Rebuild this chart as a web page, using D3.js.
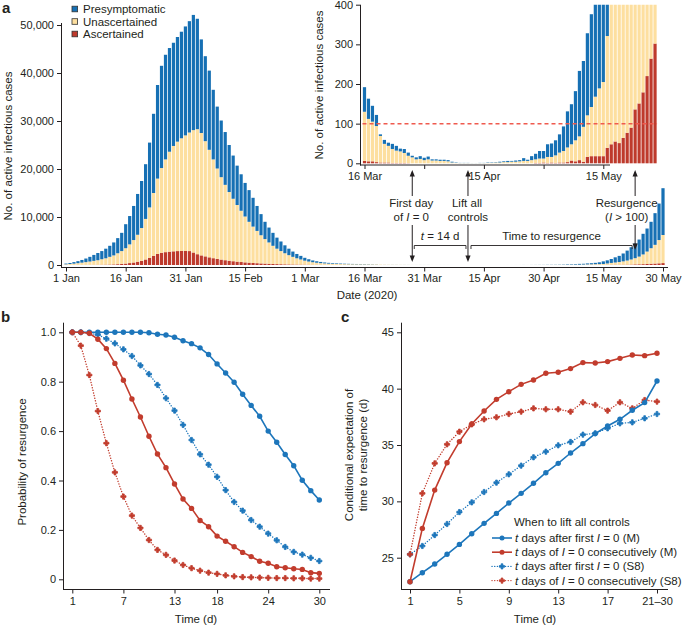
<!DOCTYPE html>
<html><head><meta charset="utf-8">
<script src="https://cdn.jsdelivr.net/npm/d3@7"></script>
<style>
body{margin:0;background:#fff;}
svg text{font-family:"Liberation Sans",Arial,Helvetica,sans-serif;fill:#231f20;}
</style></head><body>
<svg id="chart" width="685" height="626"></svg>
<script>
// ---------- Panel a data (daily, from 1 Jan 2020) ----------
const startDate = new Date(Date.UTC(2020, 0, 1));
const ascertained = [
 5,8,10,15,20,25,30,40,50,60,
 80,100,130,170,230,300,400,520,680,880,
 1150,1500,1900,2300,2550,2680,2780,2850,2900,2920,
 2930,2900,2600,2250,2000,1800,1600,1420,1270,1130,
 1000,890,790,700,620,550,490,430,380,330,
 290,250,220,190,165,145,125,110,95,82,
 70,60,50,42,35,29,24,20,16,13,
 11,9,8,7,7,6,5,5,3,2,
 2,2,1,1,1,1,0.5,0,0,0,
 0,0,0,0,0,0,0,0,0,0,
 0,0,0,0,0,0,0,0,0,0,
 0,0,0,0,0,0,0,0,1,1,
 2,1,2,1,2,2,3,7,5,8,
 4,16,18,18,18,18,39,48,55,51,
 64,77,90,136,151,179,220,264,302,350,400];
const unascertained = [
 135,202,270,365,470,575,690,820,950,1140,
 1320,1600,1870,2280,2670,3200,3900,4680,5620,6820,
 8450,10500,13100,15700,17650,19320,20820,21950,22800,23480,
 24070,24700,25500,26050,25500,24000,22400,20580,18830,17170,
 15700,14310,13010,11800,10680,9550,8510,7570,6720,5870,
 5110,4450,3780,3210,2735,2305,1925,1590,1305,1068,
 830,660,530,428,355,301,256,225,199,182,
 167,156,147,140,131,124,107,100,91,67,
 47,42,35,31,29,25,18.5,15,10,11,
 8,10,7,7,6,6,5,2,1,0.5,
 0.5,0.5,0.3,0.3,0.5,0.5,1,1,2,2,
 3,3,4,4,5,6,6,8,9,11,
 10,15,14,19,25,29,37,41,53,60,
 88,105,124,150,171,187,282,382,465,569,
 696,853,1060,1284,1599,2021,2580,3236,3898,4850,5850];
const presymptomatic = [
 160,210,320,420,560,750,980,1240,1500,1700,
 2000,2300,2700,3150,3800,5000,5900,7100,8500,9800,
 11400,13500,16500,19500,21300,21800,21600,21500,21800,22200,
 22700,23200,24000,23000,19500,17700,16500,14500,12900,11800,
 11000,9800,9000,8200,7600,7000,6600,6000,5200,4400,
 3600,3100,2700,2300,2000,1650,1350,1100,900,750,
 600,480,370,310,250,200,170,145,125,105,
 92,80,70,65,62,62,51,40,28,4,
 10,8,13,12,7,10,8,4,5,7,
 6,7,3,3,3,3,3,2,1,0.5,
 0.5,0.5,0.2,0.2,0.5,0.5,1,1,1,2,
 2,3,2,3,3,7,3,10,14,19,
 19,32,34,38,46,62,91,101,124,165,
 166,207,234,282,371,555,649,820,1080,1280,
 1640,2070,2550,3080,3550,4300,4800,5500,6600,7600,9750];
const seriesKeys = ["ascertained", "unascertained", "presymptomatic"];
const legendLabels = ["Presymptomatic", "Unascertained", "Ascertained"];
const mainYTicks = [0, 10000, 20000, 30000, 40000, 50000];
const insetYTicks = [0, 100, 200, 300, 400];
const insetFirstDay = 75, insetLastDay = 148;   // 16 Mar .. 28 May
const resurgenceThreshold = 100;
const firstZeroDate = new Date(Date.UTC(2020, 2, 28));
const liftDate = new Date(Date.UTC(2020, 3, 11));
const resurgenceDate = new Date(Date.UTC(2020, 4, 23));

// ---------- Panel b data ----------
const bTimes = [1,2,3,4,5,6,7,8,9,10,11,12,13,14,15,16,17,18,19,20,21,22,23,24,25,26,27,28,29,30];
const bTickValues = [1, 7, 13, 18, 24, 30];
const bBlueM = [1,1,1,1,1,1,1,1,1,0.998,0.992,0.989,0.980,0.966,0.954,0.937,0.910,0.872,0.835,0.798,0.749,0.704,0.660,0.600,0.555,0.505,0.460,0.401,0.359,0.321];
const bRedM = [1,1,0.996,0.972,0.934,0.874,0.806,0.730,0.657,0.579,0.507,0.452,0.386,0.325,0.287,0.238,0.213,0.175,0.154,0.132,0.109,0.092,0.073,0.065,0.051,0.047,0.043,0.040,0.027,0.024];
const bBlueS8 = [1,1,0.997,0.990,0.974,0.955,0.931,0.904,0.866,0.831,0.787,0.733,0.683,0.625,0.564,0.506,0.464,0.415,0.361,0.313,0.278,0.240,0.213,0.185,0.158,0.131,0.111,0.100,0.087,0.074];
const bRedS8 = [1,0.946,0.827,0.681,0.551,0.433,0.335,0.258,0.208,0.159,0.119,0.099,0.076,0.058,0.045,0.035,0.027,0.022,0.016,0.012,0.009,0.008,0.007,0.006,0.005,0.005,0.004,0.004,0.003,0.003];

// ---------- Panel c data ----------
const cTimes = ["1","2","3","4","5","6","7","8","9","10","11","12","13","14","15","16","17","18","19","20","21–30"];
const cTickValues = ["1","5","9","13","17","21–30"];
const cBlueM = [22.87,23.67,24.44,25.30,26.18,27.13,28.05,28.93,29.85,30.71,31.60,32.54,33.37,34.29,35.12,36.01,36.69,37.28,38.08,38.76,40.68];
const cRedM = [22.87,27.60,31.00,33.43,35.30,36.86,38.02,39.05,39.73,40.38,40.77,41.36,41.45,41.78,42.31,42.28,42.40,42.69,42.99,42.93,43.14];
const cBlueS8 = [25.30,26.04,27.01,27.99,29.05,29.91,30.83,31.66,32.40,33.17,33.91,34.41,34.97,35.27,35.92,36.04,36.48,36.92,37.01,37.37,37.75];
const cRedS8 = [25.30,30.71,33.37,35.06,36.18,36.83,37.28,37.46,37.75,37.96,38.25,38.17,38.17,37.96,38.79,38.55,38.05,38.79,38.25,38.99,38.85];

// ---------- styles ----------
const FONT = '"Liberation Sans", Arial, Helvetica, sans-serif';
const DARK = "#231f20";
const colors = {presymptomatic: "#1670b4", unascertained: "#fddf9f", ascertained: "#be3a2c"};
const BLUE = "#1d76bb", RED = "#c23c2d";

const svg = d3.select("#chart");

function styleAxis(g, size) {
  g.attr("font-family", FONT).attr("font-size", size || 11).attr("color", DARK);
  g.selectAll("text").attr("fill", DARK);
  g.select(".domain").remove();
}
function vline(x, y1, y2) {
  svg.append("line").attr("x1", x).attr("x2", x).attr("y1", y1).attr("y2", y2)
    .attr("stroke", DARK).attr("stroke-width", 1);
}
function hline(y, x1, x2) {
  svg.append("line").attr("x1", x1).attr("x2", x2).attr("y1", y).attr("y2", y)
    .attr("stroke", DARK).attr("stroke-width", 1);
}
function label(x, y, txt, opts) {
  opts = opts || {};
  const t = svg.append("text").attr("x", x).attr("y", y)
    .attr("font-size", opts.size || 11.5).attr("text-anchor", opts.anchor || "start");
  if (opts.weight) t.attr("font-weight", opts.weight);
  if (Array.isArray(txt)) {
    txt.forEach(p => {
      const s = t.append("tspan").text(p.t);
      if (p.i) s.attr("font-style", "italic");
    });
  } else t.text(txt);
  return t;
}
function rotLabel(cx, cy, txt, size) {
  svg.append("text").attr("transform", `translate(${cx},${cy}) rotate(-90)`)
    .attr("text-anchor", "middle").attr("font-size", size || 11.5).text(txt);
}

// ---------- Panel a: main stacked bars ----------
const rows = ascertained.map((_, i) => ({
  date: d3.utcDay.offset(startDate, i),
  ascertained: ascertained[i], unascertained: unascertained[i], presymptomatic: presymptomatic[i]
}));
const stacked = d3.stack().keys(seriesKeys)(rows);

const x = d3.scaleUtc().domain([startDate, d3.utcDay.offset(startDate, 150)]).range([66, 663]);
const yMain = d3.scaleLinear().domain([0, 50000]).range([265, 25]);
const bw = 3.2;

const gMain = svg.append("g");
stacked.forEach(layer => {
  gMain.append("g").attr("fill", colors[layer.key])
    .selectAll("rect").data(layer).join("rect")
    .attr("x", d => x(d.data.date) - bw / 2).attr("width", bw)
    .attr("y", d => yMain(d[1]))
    .attr("height", d => Math.max(0, yMain(d[0]) - yMain(d[1])));
});

// main axes
const gyMain = svg.append("g").attr("transform", "translate(61,0)")
  .call(d3.axisLeft(yMain).tickValues(mainYTicks).tickFormat(d3.format(",")).tickSize(4).tickPadding(3));
styleAxis(gyMain);
vline(61.5, 23, 268);
const dateTicks = d3.range(0, 151, 15).map(k => d3.utcDay.offset(startDate, k));
const gxMain = svg.append("g").attr("transform", "translate(0,267.5)")
  .call(d3.axisBottom(x).tickValues(dateTicks).tickFormat(d3.utcFormat("%-d %b")).tickSize(4).tickPadding(3));
styleAxis(gxMain);
hline(267.5, 61, 668);
label(367, 299, "Date (2020)", {anchor: "middle"});
rotLabel(11.5, 146, "No. of active infectious cases");

// legend
legendLabels.forEach((lab, i) => {
  const key = lab.toLowerCase();
  const cy = 9 + i * 12.5;
  svg.append("rect").attr("x", 72).attr("y", cy - 2.8).attr("width", 5.6).attr("height", 5.6)
    .attr("fill", colors[key]).attr("stroke", "#333").attr("stroke-width", 0.8);
  label(83, cy + 4, lab);
});
label(2, 13, "a", {size: 15, weight: "bold"});

// ---------- Panel a: inset ----------
const yInset = d3.scaleLinear().domain([0, 400]).range([163.3, 4.7]);
const defs = svg.append("defs");
defs.append("clipPath").attr("id", "insetClip").append("rect")
  .attr("x", 355).attr("y", 4.7).attr("width", 320).attr("height", 160);
const insetStack = stacked.map(layer => {
  const l = layer.filter((d, i) => i >= insetFirstDay && i <= insetLastDay);
  l.key = layer.key; return l;
});
const gInset = svg.append("g").attr("clip-path", "url(#insetClip)");
insetStack.forEach(layer => {
  gInset.append("g").attr("fill", colors[layer.key])
    .selectAll("rect").data(layer).join("rect")
    .attr("x", d => x(d.data.date) - bw / 2).attr("width", bw)
    .attr("y", d => yInset(d[1]))
    .attr("height", d => Math.max(0, yInset(d[0]) - yInset(d[1])));
});
svg.append("line")
  .attr("x1", x(rows[insetFirstDay].date) - 2).attr("x2", x(rows[insetLastDay].date) + 2)
  .attr("y1", yInset(resurgenceThreshold)).attr("y2", yInset(resurgenceThreshold))
  .attr("stroke", "#ef5a4e").attr("stroke-width", 1.5).attr("stroke-dasharray", "4,3");

const gyInset = svg.append("g").attr("transform", "translate(360,0)")
  .call(d3.axisLeft(yInset).tickValues(insetYTicks).tickSize(4).tickPadding(3));
styleAxis(gyInset);
vline(360.5, 4.7, 165.5);
const insetDateTicks = d3.range(75, 136, 15).map(k => d3.utcDay.offset(startDate, k));
const insetLabelled = new Set([75, 105, 135].map(k => +d3.utcDay.offset(startDate, k)));
const gxInset = svg.append("g").attr("transform", "translate(0,165)")
  .call(d3.axisBottom(x).tickValues(insetDateTicks)
    .tickFormat(d => insetLabelled.has(+d) ? d3.utcFormat("%-d %b")(d) : "").tickSize(4).tickPadding(3));
styleAxis(gxInset);
hline(165, 360, 610);
rotLabel(323, 85, "No. of active infectious cases");

// ---------- Panel a: annotations ----------
function arrowHead(xx, tipY, dir) {
  const h = 6.5 * dir;
  svg.append("path").attr("d", `M${xx - 2.6},${tipY + h}L${xx},${tipY}L${xx + 2.6},${tipY + h}Z`)
    .attr("fill", DARK);
}
function dblArrow(xx, top, gapTop, gapBottom, bottom) {
  vline(xx, top + 2, gapTop);
  vline(xx, gapBottom, bottom - 2);
  arrowHead(xx, top, 1);
  arrowHead(xx, bottom, -1);
}
const xF = x(firstZeroDate), xL = x(liftDate), xR = x(resurgenceDate);
dblArrow(xF, 170, 196, 225, 262);
dblArrow(xL, 170, 196, 225, 262);
dblArrow(xR, 170, 196, 225, 250);
label(xF - 1, 207, "First day", {anchor: "middle"});
label(xF - 1, 221, [{t: "of "}, {t: "I", i: true}, {t: " = 0"}], {anchor: "middle"});
label(xL - 1, 207, "Lift all", {anchor: "middle"});
label(xL, 221, "controls", {anchor: "middle"});
label(xR - 8.5, 207, "Resurgence", {anchor: "middle"});
label(xR - 8.5, 221, [{t: "("}, {t: "I", i: true}, {t: " > 100)"}], {anchor: "middle"});
function bracket(x1, x2) {
  svg.append("path").attr("d", `M${x1},249V245.5H${x2}V249`)
    .attr("fill", "none").attr("stroke", DARK).attr("stroke-width", 0.9);
}
bracket(xF + 2, xL - 2);
bracket(xL + 3, xR - 3);
label((xF + xL) / 2, 240, [{t: "t", i: true}, {t: " = 14 d"}], {anchor: "middle"});
label((xL + xR) / 2, 240, "Time to resurgence", {anchor: "middle"});

// ---------- shared helpers for b and c ----------
const crossSym = d3.symbol().type(d3.symbolCross).size(15);
function drawSeries(g, xs, ys, data, cats, color, dotted) {
  const pts = data.map((v, i) => [xs(cats[i]), ys(v)]);
  const p = g.append("path").attr("d", d3.line()(pts)).attr("fill", "none")
    .attr("stroke", color).attr("stroke-width", dotted ? 1.4 : 1.6);
  if (dotted) p.attr("stroke-dasharray", "0.1,2.6").attr("stroke-linecap", "round");
  if (dotted) {
    g.append("g").selectAll("path").data(pts).join("path")
      .attr("transform", d => `translate(${d[0]},${d[1]})`).attr("d", crossSym)
      .attr("fill", color).attr("stroke", color).attr("stroke-width", 0.8).attr("stroke-linejoin", "round");
  } else {
    g.append("g").selectAll("circle").data(pts).join("circle")
      .attr("cx", d => d[0]).attr("cy", d => d[1]).attr("r", 2.7).attr("fill", color);
  }
}

// ---------- Panel b ----------
const xB = d3.scaleLinear().domain([1, 30]).range([72.3, 319.3]);
const yB = d3.scaleLinear().domain([0, 1]).range([579.3, 332.3]);
const gB = svg.append("g");
drawSeries(gB, xB, yB, bBlueS8, bTimes, BLUE, true);
drawSeries(gB, xB, yB, bRedS8, bTimes, RED, true);
drawSeries(gB, xB, yB, bBlueM, bTimes, BLUE, false);
drawSeries(gB, xB, yB, bRedM, bTimes, RED, false);
const gyB = svg.append("g").attr("transform", "translate(63,0)")
  .call(d3.axisLeft(yB).tickValues([0, 0.2, 0.4, 0.6, 0.8, 1]).tickFormat(d => d === 0 ? "0" : d3.format(".1f")(d)).tickSize(4).tickPadding(3));
styleAxis(gyB);
vline(63.5, 322.7, 590);
const gxB = svg.append("g").attr("transform", "translate(0,589.5)")
  .call(d3.axisBottom(xB).tickValues(bTickValues).tickSize(4).tickPadding(4));
styleAxis(gxB);
hline(589.5, 63, 330);
label(196, 623, "Time (d)", {anchor: "middle"});
rotLabel(26, 462, "Probability of resurgence");
label(1, 322, "b", {size: 15, weight: "bold"});

// ---------- Panel c ----------
const xC = d3.scalePoint().domain(cTimes).range([410, 657]);
const yC = d3.scaleLinear().domain([25, 45]).range([557.7, 332.3]);
const gC = svg.append("g");
drawSeries(gC, xC, yC, cBlueS8, cTimes, BLUE, true);
drawSeries(gC, xC, yC, cRedS8, cTimes, RED, true);
drawSeries(gC, xC, yC, cBlueM, cTimes, BLUE, false);
drawSeries(gC, xC, yC, cRedM, cTimes, RED, false);
const gyC = svg.append("g").attr("transform", "translate(401,0)")
  .call(d3.axisLeft(yC).tickValues([25, 30, 35, 40, 45]).tickSize(4).tickPadding(3));
styleAxis(gyC);
vline(401.5, 322.7, 590);
const gxC = svg.append("g").attr("transform", "translate(0,589.5)")
  .call(d3.axisBottom(xC).tickValues(cTickValues).tickSize(4).tickPadding(4));
styleAxis(gxC);
hline(589.5, 401, 668);
label(535, 623, "Time (d)", {anchor: "middle"});
svg.append("text").attr("transform", "translate(353,455) rotate(-90)").attr("text-anchor", "middle")
  .attr("font-size", 11.5).text("Conditional expectation of");
svg.append("text").attr("transform", "translate(367,455) rotate(-90)").attr("text-anchor", "middle")
  .attr("font-size", 11.5).text("time to resurgence (d)");
label(341, 322, "c", {size: 15, weight: "bold"});

// legend c
label(514, 526, "When to lift all controls");
const legendC = [
  {color: BLUE, dotted: false, parts: [{t: "t", i: true}, {t: " days after first "}, {t: "I", i: true}, {t: " = 0 (M)"}]},
  {color: RED, dotted: false, parts: [{t: "t", i: true}, {t: " days of "}, {t: "I", i: true}, {t: " = 0 consecutively (M)"}]},
  {color: BLUE, dotted: true, parts: [{t: "t", i: true}, {t: " days after first "}, {t: "I", i: true}, {t: " = 0 (S8)"}]},
  {color: RED, dotted: true, parts: [{t: "t", i: true}, {t: " days of "}, {t: "I", i: true}, {t: " = 0 consecutively (S8)"}]}
];
legendC.forEach((e, i) => {
  const cy = 538 + i * 14.2;
  const ln = svg.append("line").attr("x1", 492).attr("x2", 512).attr("y1", cy).attr("y2", cy)
    .attr("stroke", e.color).attr("stroke-width", e.dotted ? 1.4 : 1.6);
  if (e.dotted) {
    ln.attr("stroke-dasharray", "0.1,2.6").attr("stroke-linecap", "round");
    svg.append("path").attr("transform", `translate(502,${cy})`).attr("d", crossSym)
      .attr("fill", e.color).attr("stroke", e.color).attr("stroke-width", 0.8).attr("stroke-linejoin", "round");
  } else {
    svg.append("circle").attr("cx", 502).attr("cy", cy).attr("r", 2.5).attr("fill", e.color);
  }
  label(515, cy + 4, e.parts);
});
</script>
</body></html>
